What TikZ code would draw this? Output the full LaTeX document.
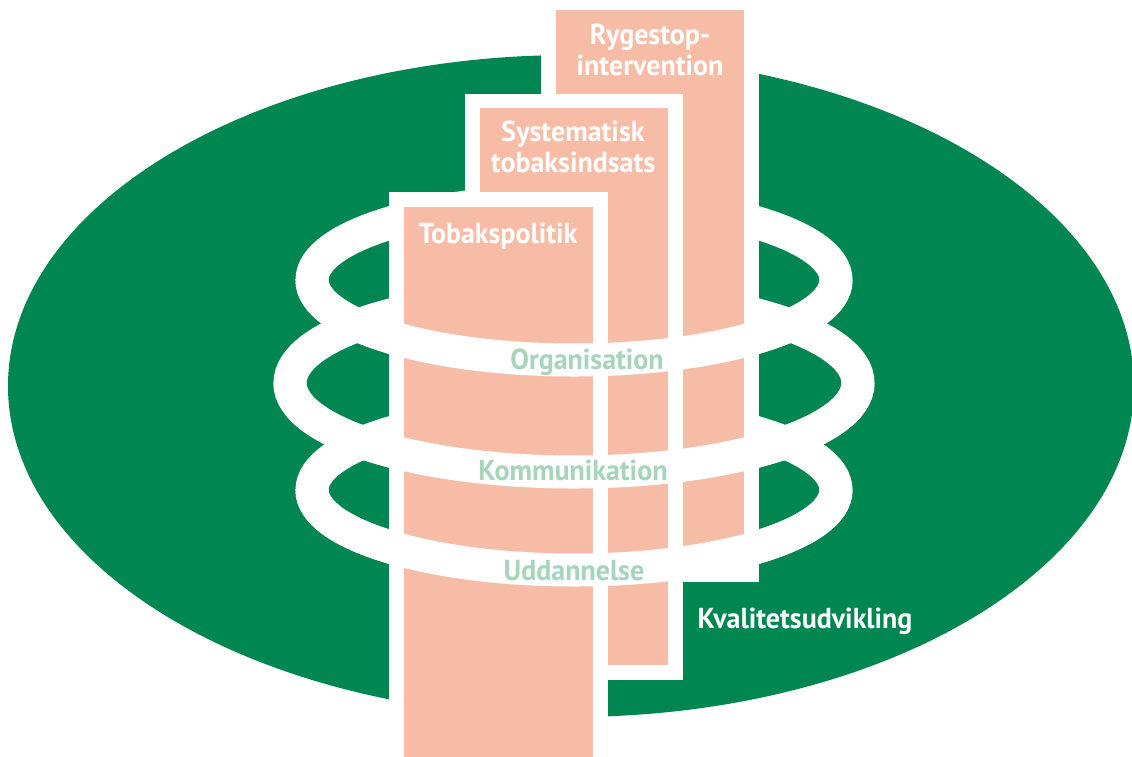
\documentclass[tikz,border=0pt]{standalone}
\usepackage{fontspec}
\setmainfont{PT Sans}[FakeStretch=0.97]
\usepackage{tikz}
\usetikzlibrary{positioning}
\definecolor{ovalgreen}{RGB}{0,134,81}
\definecolor{pillarpink}{RGB}{246,188,166}
\definecolor{ringtext}{RGB}{166,212,188}
\tikzset{
    % Pillars
    pillarborder/.style={fill=white},
    pillarfill/.style={fill=pillarpink},
    plbl/.style={text=white, inner sep=0pt, align=center,
                 font=\fontsize{8.2}{8.54}\selectfont\bfseries},
    % Rings
    ringband/.style={draw=white, line width=0.33cm},
    rlbl/.style={text=ringtext, inner sep=0pt,
                 font=\fontsize{8.2}{8.54}\selectfont\bfseries},
}
\begin{document}
\begin{tikzpicture}[x=0.01cm, y=-0.01cm]
\useasboundingbox (0,0) rectangle (1132,757);
\clip (0,0) rectangle (1132,757);

% Quality oval
\fill[ovalgreen] (571,386) ellipse [x radius=563, y radius=331];

% Rings, full (back halves end up behind the pillars)
\draw[ringband] (574,280) ellipse [x radius=262, y radius=80];
\draw[ringband] (574,383) ellipse [x radius=284, y radius=89];
\draw[ringband] (574,490) ellipse [x radius=262, y radius=80];

% Pillars, back to front
\fill[pillarborder] (541,-10) rectangle (759,582);
\fill[pillarfill]   (556,10)  rectangle (744,567);
\fill[pillarborder] (465,94)  rectangle (683,680);
\fill[pillarfill]   (480,108) rectangle (668,665);
\fill[pillarborder] (389,192) rectangle (608,800);
\fill[pillarfill]   (404,207) rectangle (593,800);

% Rings, front halves
\draw[ringband] (312,280) arc[start angle=180, end angle=0, x radius=262, y radius=80];
\draw[ringband] (290,383) arc[start angle=180, end angle=0, x radius=284, y radius=89];
\draw[ringband] (312,490) arc[start angle=180, end angle=0, x radius=262, y radius=80];

% Labels
\node[plbl, anchor=base] (ryg) at (650,75)  {Rygestop-\\intervention};
\node[plbl, anchor=base] (sys) at (573,172) {Systematisk\\tobaksindsats};
\node[plbl, anchor=base] (tob) at (498,243) {Tobakspolitik};

\node[rlbl, anchor=base] (org) at (587,369) {Organisation};
\node[rlbl, anchor=base] (kom) at (573,480) {Kommunikation};
\node[rlbl, anchor=base] (udd) at (574,580) {Uddannelse};

\node[plbl, anchor=base] (kval) at (805,628) {Kvalitetsudvikling};
\end{tikzpicture}
\end{document}
